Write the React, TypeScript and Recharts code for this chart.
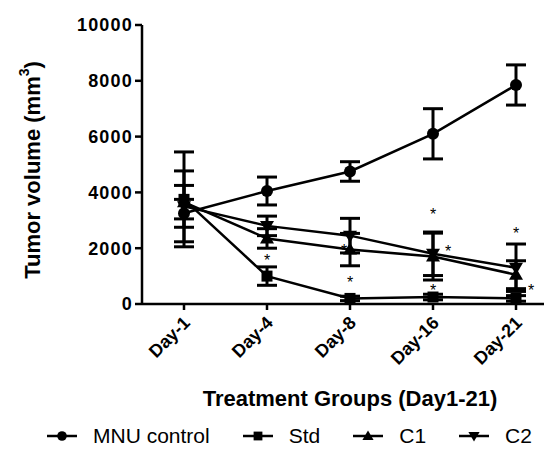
import React from 'react';
import { LineChart, Line, XAxis, YAxis, ErrorBar, Label } from 'recharts';

const days = ['Day-1', 'Day-4', 'Day-8', 'Day-16', 'Day-21'];
const yTicks = [0, 2000, 4000, 6000, 8000, 10000];

const mnu = [3250, 4050, 4750, 6100, 7850];
const mnuErr = [500, 500, 350, 900, 720];
const std = [3750, 1000, 200, 250, 200];
const stdErr = [1700, 330, 80, 100, 100];
const c1 = [3650, 2350, 1950, 1700, 1050];
const c1Err = [600, 350, 580, 840, 500];
const c2 = [3500, 2800, 2450, 1800, 1300];
const c2Err = [1270, 350, 620, 780, 850];

// significance asterisks
const starMid = [null, 1700, 900, 3350, 2650];
const starMid2 = [null, null, null, 600, null];
const starLeft = [null, null, 2050, null, null];
const starRight = [null, null, null, 2000, 600];

const data = days.map((day, i) => ({
  day,
  mnu: mnu[i], mnuErr: mnuErr[i],
  std: std[i], stdErr: stdErr[i],
  c1: c1[i], c1Err: c1Err[i],
  c2: c2[i], c2Err: c2Err[i],
  starMid: starMid[i], starMid2: starMid2[i],
  starLeft: starLeft[i], starRight: starRight[i],
}));

const FONT = '"Liberation Sans", Arial, Helvetica, sans-serif';

type Shape = 'circle' | 'square' | 'up' | 'down';

function Marker({ shape, cx, cy, s = 1 }: { shape: Shape; cx: number; cy: number; s?: number }) {
  if (shape === 'circle') return <circle cx={cx} cy={cy} r={6 * s} fill="#000" />;
  if (shape === 'square') return <rect x={cx - 5.5 * s} y={cy - 5.5 * s} width={11 * s} height={11 * s} fill="#000" />;
  if (shape === 'up')
    return <polygon points={`${cx},${cy - 7 * s} ${cx + 7 * s},${cy + 5 * s} ${cx - 7 * s},${cy + 5 * s}`} fill="#000" />;
  return <polygon points={`${cx},${cy + 7 * s} ${cx + 7 * s},${cy - 5 * s} ${cx - 7 * s},${cy - 5 * s}`} fill="#000" />;
}

const dotFor = (shape: Shape) => (props: any) => {
  const { cx, cy, index } = props;
  if (cx == null || cy == null) return <g key={index} />;
  return <Marker key={index} shape={shape} cx={cx} cy={cy} />;
};

const starDot = (dx: number) => (props: any) => {
  const { cx, cy, index, value } = props;
  if (cx == null || cy == null || value == null) return <g key={index} />;
  return (
    <text key={index} x={cx + dx} y={cy + 9} textAnchor="middle" fontSize={16} fontFamily={FONT} fill="#000">
      *
    </text>
  );
};

const DayTick = (props: any) => {
  const { x, y, payload } = props;
  return (
    <g transform={`translate(${x + 7},${y + 12})`}>
      <text textAnchor="end" transform="rotate(-45)" fontSize={18} fontWeight="bold" fontFamily={FONT} fill="#000">
        {payload.value}
      </text>
    </g>
  );
};

const legendItems: { name: string; shape: Shape }[] = [
  { name: 'MNU control', shape: 'circle' },
  { name: 'Std', shape: 'square' },
  { name: 'C1', shape: 'up' },
  { name: 'C2', shape: 'down' },
];

export default function App() {
  const axisStroke = { stroke: '#000', strokeWidth: 2.5 };
  return (
    <div style={{ margin: -8, width: 552, height: 455, overflow: 'hidden', position: 'relative', background: '#fff' }}>
      <LineChart width={560} height={455} data={data} margin={{ top: 25, right: 2, left: 0, bottom: 0 }}>
        <XAxis
          dataKey="day"
          interval={0}
          height={151}
          tickSize={6}
          padding={{ left: 42, right: 42 }}
          axisLine={axisStroke}
          tickLine={axisStroke}
          tick={<DayTick />}
        >
          <Label
            value="Treatment Groups (Day1-21)"
            position="insideBottom"
            offset={49}
            style={{ fontSize: 22, fontWeight: 'bold', fontFamily: FONT, fill: '#000' }}
          />
        </XAxis>
        <YAxis
          domain={[0, 10000]}
          ticks={yTicks}
          width={142}
          tickSize={7}
          axisLine={axisStroke}
          tickLine={axisStroke}
          tick={{ fill: '#000', fontSize: 18, fontWeight: 'bold', fontFamily: FONT, letterSpacing: 1.2 }}
        >
          <Label
            content={() => (
              <text
                x={32}
                y={170}
                transform="rotate(-90 32 170)"
                textAnchor="middle"
                dominantBaseline="central"
                fontSize={22}
                fontWeight="bold"
                fontFamily={FONT}
                fill="#000"
              >
                Tumor volume (mm<tspan dy={-8} fontSize={14}>3</tspan>
                <tspan dy={8}>)</tspan>
              </text>
            )}
          />
        </YAxis>

        <Line dataKey="mnu" stroke="#000" strokeWidth={2.5} dot={dotFor('circle')} isAnimationActive={false}>
          <ErrorBar dataKey="mnuErr" width={10} stroke="#000" strokeWidth={3} direction="y" />
        </Line>
        <Line dataKey="std" stroke="#000" strokeWidth={2.5} dot={dotFor('square')} isAnimationActive={false}>
          <ErrorBar dataKey="stdErr" width={10} stroke="#000" strokeWidth={3} direction="y" />
        </Line>
        <Line dataKey="c1" stroke="#000" strokeWidth={2.5} dot={dotFor('up')} isAnimationActive={false}>
          <ErrorBar dataKey="c1Err" width={10} stroke="#000" strokeWidth={3} direction="y" />
        </Line>
        <Line dataKey="c2" stroke="#000" strokeWidth={2.5} dot={dotFor('down')} isAnimationActive={false}>
          <ErrorBar dataKey="c2Err" width={10} stroke="#000" strokeWidth={3} direction="y" />
        </Line>

        <Line dataKey="starMid" stroke="none" dot={starDot(0)} activeDot={false} isAnimationActive={false} />
        <Line dataKey="starMid2" stroke="none" dot={starDot(0)} activeDot={false} isAnimationActive={false} />
        <Line dataKey="starLeft" stroke="none" dot={starDot(-6)} activeDot={false} isAnimationActive={false} />
        <Line dataKey="starRight" stroke="none" dot={starDot(15)} activeDot={false} isAnimationActive={false} />
      </LineChart>

      <div
        style={{
          position: 'absolute',
          left: 47,
          top: 424,
          display: 'flex',
          alignItems: 'center',
          fontFamily: FONT,
          fontSize: 21,
          color: '#000',
          whiteSpace: 'nowrap',
        }}
      >
        {legendItems.map((it) => (
          <div key={it.name} style={{ display: 'flex', alignItems: 'center', marginRight: 33 }}>
            <svg width={30} height={16}>
              <line x1={0} y1={8} x2={30} y2={8} stroke="#000" strokeWidth={2.5} />
              <Marker shape={it.shape} cx={15} cy={8} s={0.8} />
            </svg>
            <span style={{ marginLeft: 16 }}>{it.name}</span>
          </div>
        ))}
      </div>
    </div>
  );
}
